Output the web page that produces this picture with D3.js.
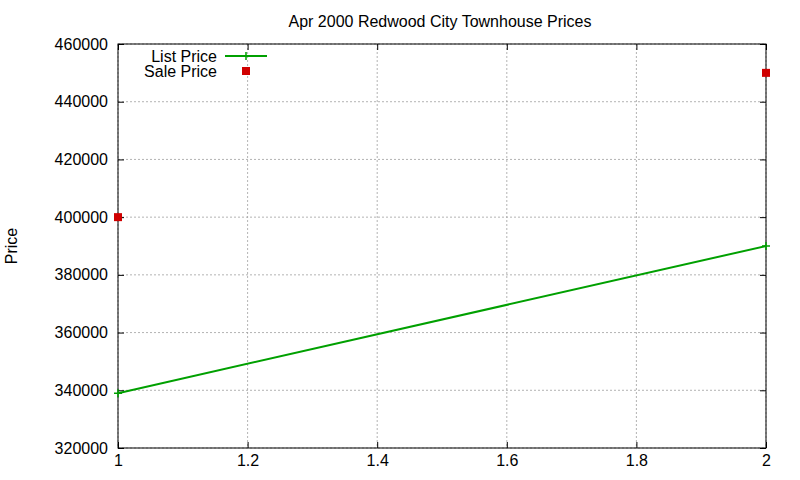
<!DOCTYPE html>
<html><head><meta charset="utf-8">
<script src="https://cdn.jsdelivr.net/npm/d3@7"></script>
<style>body{margin:0;background:#fff}text{font-family:"Liberation Sans",Arial,sans-serif}</style>
</head><body><svg id="c" width="800" height="480"></svg>
<script>
const listX=[1,2], listY=[339000,390000];
const saleX=[1,2], saleY=[400000,450000];
const xTicks=[1,1.2,1.4,1.6,1.8,2];
const yTicks=[320000,340000,360000,380000,400000,420000,440000,460000];
const title="Apr 2000 Redwood City Townhouse Prices";
const FS=16;
const svg=d3.select("#c");
const L=118,R=766,T=44,B=448;
const x=d3.scaleLinear().domain([1,2]).range([L,R]);
const y=d3.scaleLinear().domain([320000,460000]).range([B,T]);
const g=svg.append("g");
xTicks.forEach(t=>g.append("line").attr("x1",x(t)).attr("x2",x(t)).attr("y1",T).attr("y2",B).attr("stroke","#a0a0a0").attr("stroke-dasharray","2,2").attr("stroke-width",0.8));
yTicks.forEach(t=>g.append("line").attr("x1",L).attr("x2",R).attr("y1",y(t)).attr("y2",y(t)).attr("stroke","#a0a0a0").attr("stroke-dasharray","2,2").attr("stroke-width",0.8));
g.append("rect").attr("x",L).attr("y",T).attr("width",R-L).attr("height",B-T).attr("fill","none").attr("stroke","#000");
const ax=d3.axisBottom(x).tickValues(xTicks).tickSize(-6).tickPadding(7).tickFormat(d3.format("~g"));
const ay=d3.axisLeft(y).tickValues(yTicks).tickSize(-6).tickPadding(10).tickFormat(d3.format("d"));
[svg.append("g").attr("transform",`translate(0,${B})`).call(ax),svg.append("g").attr("transform",`translate(${L},0)`).call(ay)].forEach(a=>{a.select(".domain").remove();a.selectAll("text").attr("font-size",FS).attr("fill","#000").style("font-family","Liberation Sans,Arial");});
svg.append("g").attr("transform",`translate(0,${T})`).call(d3.axisTop(x).tickValues(xTicks).tickSize(-6).tickFormat("")).select(".domain").remove();
svg.append("g").attr("transform",`translate(${R},0)`).call(d3.axisRight(y).tickValues(yTicks).tickSize(-6).tickFormat("")).select(".domain").remove();
svg.append("text").attr("x",440).attr("y",27).attr("text-anchor","middle").attr("font-size",FS).text(title);
svg.append("text").attr("transform","translate(17,246) rotate(-90)").attr("text-anchor","middle").attr("font-size",FS).text("Price");
const pts=listX.map((v,i)=>[x(v),y(listY[i])]);
svg.append("path").attr("d",d3.line()(pts)).attr("stroke","#00a000").attr("stroke-width",2).attr("fill","none");
const plus=(cx,cy)=>svg.append("path").attr("d",`M${cx-4},${cy}H${cx+4}M${cx},${cy-4}V${cy+4}`).attr("stroke","#00a000").attr("stroke-width",1.5);
pts.forEach(p=>plus(p[0],p[1]));
saleX.forEach((v,i)=>svg.append("rect").attr("x",x(v)-4).attr("y",y(saleY[i])-4).attr("width",8).attr("height",8).attr("fill","#d00000"));
svg.append("text").attr("x",217).attr("y",62).attr("text-anchor","end").attr("font-size",FS).text("List Price");
svg.append("line").attr("x1",225).attr("x2",267).attr("y1",56).attr("y2",56).attr("stroke","#00a000").attr("stroke-width",2);
plus(246,56);
svg.append("text").attr("x",217).attr("y",77).attr("text-anchor","end").attr("font-size",FS).text("Sale Price");
svg.append("rect").attr("x",242).attr("y",67).attr("width",8).attr("height",8).attr("fill","#d00000");
</script></body></html>
